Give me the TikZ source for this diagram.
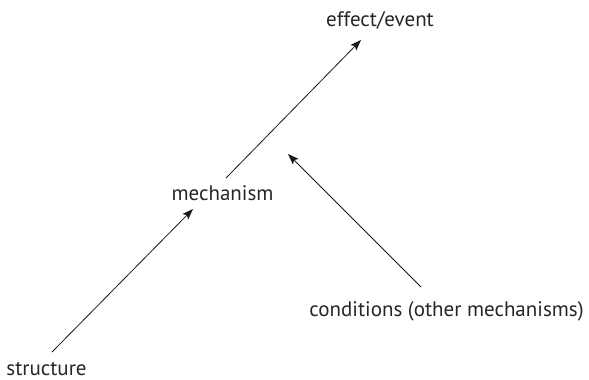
\documentclass[tikz,border=0pt]{standalone}
\usepackage{fontspec}
\setmainfont{PT Sans}
\usetikzlibrary{arrows.meta}
\begin{document}
\begin{tikzpicture}[x=1pt,y=-1pt,
  lbl/.style={inner sep=0pt, anchor=base, font=\fontsize{21}{25}\selectfont, text=black!85},
  arr/.style={line width=0.8pt, black!90, -{Stealth[length=11pt,width=8pt,inset=2.5pt]}}]
\useasboundingbox (0,0) rectangle (589,380);
\node[lbl] (effect) at (380,27) {effect/event};
\node[lbl] (mech) at (222.5,200) {mechanism};
\node[lbl] (struct) at (46.5,375) {structure};
\node[lbl] (cond) at (446.5,316) {conditions (other mechanisms)};
\coordinate (a1s) at (226,178);
\coordinate (a1e) at (361,40);
\coordinate (a2s) at (52,352);
\coordinate (a2e) at (193,209);
\coordinate (a3s) at (421,287);
\coordinate (a3e) at (288,154);
\draw[arr] (a1s) -- (a1e);
\draw[arr] (a2s) -- (a2e);
\draw[arr] (a3s) -- (a3e);
\end{tikzpicture}
\end{document}
